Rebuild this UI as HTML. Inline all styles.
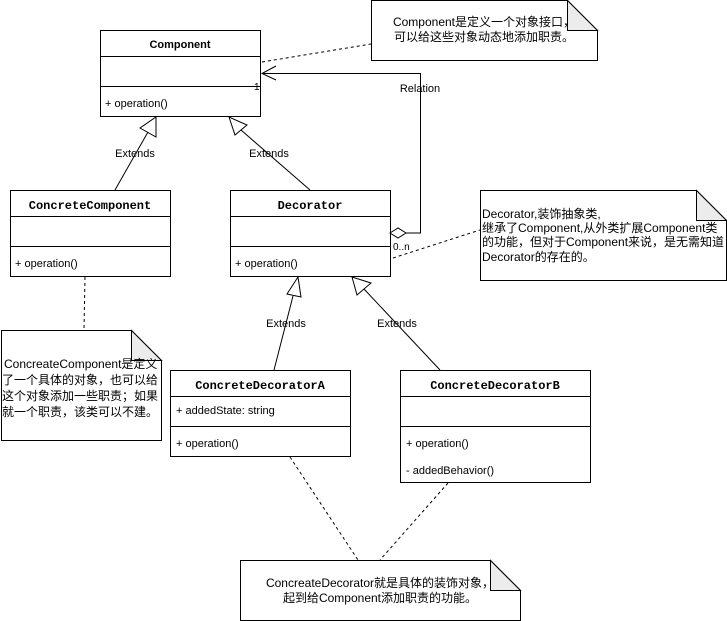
<!DOCTYPE html>
<html><head><meta charset="utf-8"><style>
html,body{margin:0;padding:0;background:#fff;}
svg{display:block;}
text{font-family:"Liberation Sans","Noto Sans CJK SC",sans-serif;font-size:11px;fill:#000;}
.h{font-family:"Liberation Mono","Liberation Serif",monospace;font-weight:bold;font-size:12px;}
.n{font-size:12px;}
</style></head><body>
<svg width="727" height="621" viewBox="0 0 727 621" xmlns="http://www.w3.org/2000/svg">
<g fill="#fff" stroke="#000" stroke-width="1">
<rect x="100.5" y="30.5" width="160" height="86"/>
<line x1="100" y1="56.5" x2="261" y2="56.5"/>
<line x1="100" y1="86.5" x2="261" y2="86.5"/>
<rect x="10.5" y="190.5" width="160" height="86"/>
<line x1="10" y1="216.5" x2="171" y2="216.5"/>
<line x1="10" y1="246.5" x2="171" y2="246.5"/>
<rect x="230.5" y="190.5" width="160" height="86"/>
<line x1="230" y1="216.5" x2="391" y2="216.5"/>
<line x1="230" y1="246.5" x2="391" y2="246.5"/>
<rect x="170.5" y="370.5" width="180" height="86"/>
<line x1="170" y1="396.5" x2="351" y2="396.5"/>
<line x1="170" y1="426.5" x2="351" y2="426.5"/>
<rect x="400.5" y="370.5" width="190" height="112"/>
<line x1="400" y1="396.5" x2="591" y2="396.5"/>
<line x1="400" y1="426.5" x2="591" y2="426.5"/>
</g>
<g stroke="#000" stroke-width="1">
<path d="M371.5 0.5 H567.5 L597.5 30.5 V60.5 H371.5 Z" fill="#fff"/>
<path d="M567.5 0.5 V30.5 H597.5 Z" fill="#ececec"/>
<path d="M480.5 190.5 H696.5 L726.5 220.5 V280.5 H480.5 Z" fill="#fff"/>
<path d="M696.5 190.5 V220.5 H726.5 Z" fill="#ececec"/>
<path d="M1.5 330.5 H131.5 L161.5 360.5 V440.5 H1.5 Z" fill="#fff"/>
<path d="M131.5 330.5 V360.5 H161.5 Z" fill="#ececec"/>
<path d="M240.5 560.5 H490.5 L520.5 590.5 V620.5 H240.5 Z" fill="#fff"/>
<path d="M490.5 560.5 V590.5 H520.5 Z" fill="#ececec"/>
</g>
<g stroke="#000" stroke-dasharray="3,3" fill="none">
<line x1="262" y1="62" x2="371" y2="44"/>
<line x1="393" y1="258" x2="480" y2="230"/>
<line x1="85" y1="277" x2="84" y2="330"/>
<line x1="290" y1="457" x2="358" y2="560"/>
<line x1="448" y1="483" x2="380" y2="560"/>
</g>
<g stroke="#000" fill="none">
<polyline points="406,233 420.5,233 420.5,73.5 262,73.5"/>
<polyline points="276,66 262,73.5 276,80"/>
<path d="M390 233 L398 228 L406 233 L398 238 Z" fill="#fff"/>
<line x1="115" y1="190" x2="148" y2="132"/>
<path d="M156 117 L156 137 L140 128 Z" fill="#fff"/>
<line x1="310" y1="190" x2="241" y2="130"/>
<path d="M229 117 L235 135 L247 125 Z" fill="#fff"/>
<line x1="274" y1="370" x2="293" y2="296"/>
<path d="M298 277 L301 297 L287 294 Z" fill="#fff"/>
<line x1="440" y1="370" x2="364" y2="289"/>
<path d="M352 277 L357 295 L371 283 Z" fill="#fff"/>
</g>
<text x="180" y="48" text-anchor="middle" style="font-weight:bold">Component</text>
<text x="105" y="107">+ operation()</text>
<text x="254" y="90" style="font-size:10px">1</text>
<text x="420" y="92" text-anchor="middle">Relation</text>
<text x="135" y="157" text-anchor="middle">Extends</text>
<text x="269" y="157" text-anchor="middle">Extends</text>
<text class="h" x="90" y="209" text-anchor="middle">ConcreteComponent</text>
<text x="15" y="267">+ operation()</text>
<text class="h" x="310" y="209" text-anchor="middle">Decorator</text>
<text x="235" y="267">+ operation()</text>
<text x="393" y="250" style="font-size:10px">0..n</text>
<text x="286" y="327" text-anchor="middle">Extends</text>
<text x="397" y="327" text-anchor="middle">Extends</text>
<text class="h" x="260" y="389" text-anchor="middle">ConcreteDecoratorA</text>
<text x="176" y="414">+ addedState: string</text>
<text x="176" y="447">+ operation()</text>
<text class="h" x="495" y="389" text-anchor="middle">ConcreteDecoratorB</text>
<text x="406" y="447">+ operation()</text>
<text x="406" y="474">- addedBehavior()</text>
<text class="n" x="484" y="26" text-anchor="middle">Component是定义一个对象接口，</text>
<text class="n" x="484" y="41" text-anchor="middle">可以给这些对象动态地添加职责。</text>
<text class="n" x="482" y="218">Decorator,装饰抽象类,</text>
<text class="n" x="482" y="232">继承了Component,从外类扩展Component类</text>
<text class="n" x="482" y="246">的功能，但对于Component来说，是无需知道</text>
<text class="n" x="482" y="261">Decorator的存在的。</text>
<text class="n" x="4" y="368">ConcreateComponent是定义</text>
<text class="n" x="2" y="384">了一个具体的对象，也可以给</text>
<text class="n" x="2" y="400">这个对象添加一些职责；如果</text>
<text class="n" x="2" y="416">就一个职责，该类可以不建。</text>
<text class="n" x="380" y="587" text-anchor="middle">ConcreateDecorator就是具体的装饰对象，</text>
<text class="n" x="380" y="602" text-anchor="middle">起到给Component添加职责的功能。</text>
</svg>
</body></html>
